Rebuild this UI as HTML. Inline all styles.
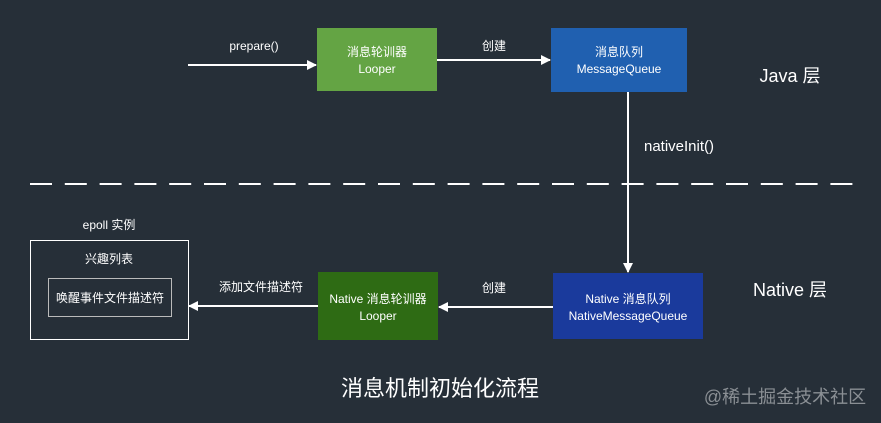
<!DOCTYPE html>
<html><head><meta charset="utf-8"><style>
html,body{margin:0;padding:0;background:#262f38;}
svg{display:block}
text{font-family:"Liberation Sans","Noto Sans CJK SC",sans-serif;fill:#fff;text-anchor:middle}
</style></head><body>
<svg width="881" height="423" viewBox="0 0 881 423">
<rect width="881" height="423" fill="#262f38"/>
<defs><marker id="a" markerWidth="10" markerHeight="10" refX="9" refY="5" orient="auto" markerUnits="userSpaceOnUse"><path d="M0,0 L10,5 L0,10 z" fill="#fff"/></marker></defs>
<line x1="30" y1="184" x2="858" y2="184" stroke="#fff" stroke-width="2" stroke-dasharray="22,12.8"/>
<line x1="188" y1="65" x2="316" y2="65" stroke="#fff" stroke-width="2" marker-end="url(#a)"/>
<text x="254" y="50" font-size="12">prepare()</text>
<rect x="317" y="28" width="120" height="63" fill="#64a444"/>
<text x="377" y="56" font-size="12">消息轮训器</text>
<text x="377" y="73" font-size="12">Looper</text>
<line x1="437" y1="60" x2="550" y2="60" stroke="#fff" stroke-width="2" marker-end="url(#a)"/>
<text x="494" y="50" font-size="12">创建</text>
<rect x="551" y="28" width="136" height="64" fill="#2060b0"/>
<text x="619" y="56" font-size="12">消息队列</text>
<text x="619" y="73" font-size="12">MessageQueue</text>
<text x="790" y="82" font-size="18">Java 层</text>
<line x1="628" y1="92" x2="628" y2="272" stroke="#fff" stroke-width="2" marker-end="url(#a)"/>
<text x="679" y="151" font-size="15">nativeInit()</text>
<rect x="553" y="273" width="150" height="66" fill="#1a3a9c"/>
<text x="628" y="303" font-size="12">Native 消息队列</text>
<text x="628" y="320" font-size="12">NativeMessageQueue</text>
<line x1="553" y1="307" x2="439" y2="307" stroke="#fff" stroke-width="2" marker-end="url(#a)"/>
<text x="494" y="292" font-size="12">创建</text>
<rect x="318" y="272" width="120" height="68" fill="#2e6b14"/>
<text x="378" y="303" font-size="12">Native 消息轮训器</text>
<text x="378" y="320" font-size="12">Looper</text>
<line x1="318" y1="306" x2="189" y2="306" stroke="#fff" stroke-width="2" marker-end="url(#a)"/>
<text x="261" y="291" font-size="12">添加文件描述符</text>
<rect x="30.5" y="240.5" width="158" height="99" fill="none" stroke="#fff" stroke-width="1"/>
<text x="109" y="229" font-size="12">epoll 实例</text>
<text x="109" y="263" font-size="12">兴趣列表</text>
<rect x="48.5" y="278.5" width="123" height="38" fill="none" stroke="#bbb" stroke-width="1"/>
<text x="110" y="302" font-size="12">唤醒事件文件描述符</text>
<text x="790" y="296" font-size="18">Native 层</text>
<text x="440" y="396" font-size="22">消息机制初始化流程</text>
<text x="785" y="403" font-size="18" style="fill:#8a8f94">@稀土掘金技术社区</text>
</svg>
</body></html>
